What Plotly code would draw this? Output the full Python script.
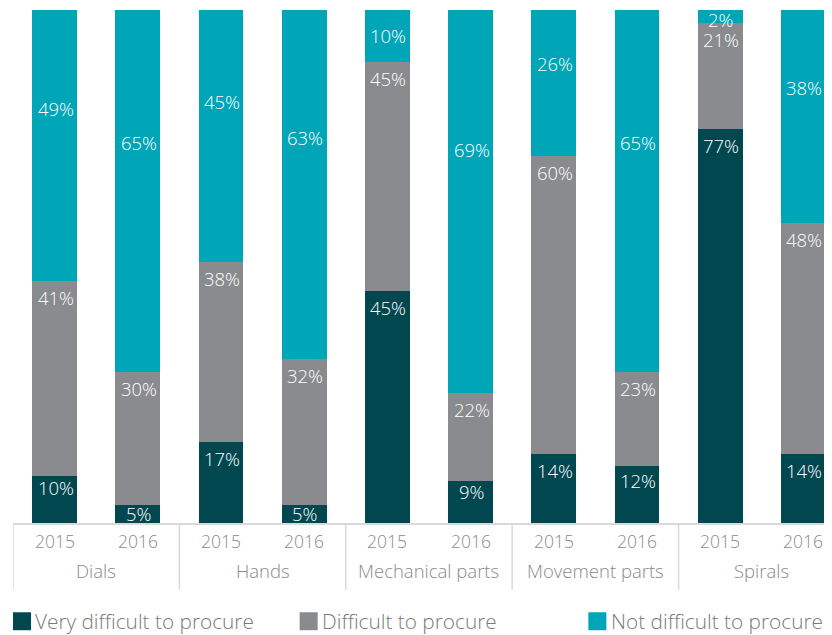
import plotly.graph_objects as go

groups = ["Dials", "Hands", "Mechanical parts", "Movement parts", "Spirals"]
years = ["2015", "2016"]
series_names = ["Very difficult to procure", "Difficult to procure", "Not difficult to procure"]
colors = ["#00474f", "#898b8e", "#00a5b7"]

# Bar segment heights as drawn in the picture (share of the full bar, %)
very_difficult = [9.2, 3.6, 15.8, 3.6, 45.2, 8.1, 13.5, 11.1, 76.9, 13.5]
difficult = [38.0, 25.9, 35.1, 28.4, 44.7, 17.2, 58.0, 18.4, 20.5, 45.0]
not_difficult = [52.8, 70.5, 49.1, 68.0, 10.1, 74.7, 28.5, 70.5, 2.6, 41.5]

# Percentages printed on the bars
very_difficult_labels = [10, 5, 17, 5, 45, 9, 14, 12, 77, 14]
difficult_labels = [41, 30, 38, 32, 45, 22, 60, 23, 21, 48]
not_difficult_labels = [49, 65, 45, 63, 10, 69, 26, 65, 2, 38]

n = len(very_difficult)
xs = list(range(n))
FONT = "Open Sans"
GRAY_TXT = "#8a8a8a"
LINE = "#d9d9d9"
PX_PER_UNIT = 5.13  # plot height 513px over 0..100

fig = go.Figure()
for vals, name, col in zip([very_difficult, difficult, not_difficult], series_names, colors):
    fig.add_trace(go.Bar(x=xs, y=vals, name=name, marker=dict(color=col, line=dict(width=0)),
                         width=0.54, showlegend=False, hoverinfo="skip"))

lab_font = dict(family=FONT, size=18.5, color="white", weight=300)


def end_offset(h):
    return 16.5 if h > 60 else max(h * 0.25, 8.5)


annotations = []
for i in xs:
    v = very_difficult[i]
    annotations.append(dict(x=i, y=v, xref="x", yref="y", text=f"{very_difficult_labels[i]}%",
                            showarrow=False, yanchor="middle",
                            yshift=-end_offset(v * PX_PER_UNIT), xshift=1, font=lab_font))
    g = difficult[i]
    annotations.append(dict(x=i, y=v + g, xref="x", yref="y", text=f"{difficult_labels[i]}%",
                            showarrow=False, yanchor="middle",
                            yshift=-end_offset(g * PX_PER_UNIT), xshift=1, font=lab_font))
    t = not_difficult[i]
    h = t * PX_PER_UNIT
    off = max(0.365 * h, min(h / 2, 27), 9)
    annotations.append(dict(x=i, y=v + g + t, xref="x", yref="y", text=f"{not_difficult_labels[i]}%",
                            showarrow=False, yanchor="middle", yshift=-off, xshift=1, font=lab_font))

# year labels and group labels
for gi, grp in enumerate(groups):
    for k, yr in enumerate(years):
        annotations.append(dict(x=2 * gi + k, y=0, xref="x", yref="paper", text=yr, showarrow=False,
                                yanchor="middle", yshift=-18,
                                font=dict(family=FONT, size=17.5, color=GRAY_TXT, weight=300)))
    annotations.append(dict(x=2 * gi + 0.5, y=0, xref="x", yref="paper", text=grp, showarrow=False,
                            yanchor="middle", yshift=-47,
                            font=dict(family=FONT, size=18.5, color=GRAY_TXT, weight=300)))

shapes = []
for gi in range(len(groups)):
    shapes.append(dict(type="line", xref="x", yref="paper", x0=2 * gi - 0.5, x1=2 * gi - 0.5,
                       y0=0, y1=-0.13, line=dict(color=LINE, width=1.5)))

# manual legend
leg_x = [0.0, 0.35, 0.7025]
for lx, name, col in zip(leg_x, series_names, colors):
    shapes.append(dict(type="rect", xref="paper", yref="paper", x0=lx, x1=lx + 0.022,
                       y0=-0.174, y1=-0.209, fillcolor=col, line=dict(width=0)))
    annotations.append(dict(x=lx + 0.026, y=-0.1915, xref="paper", yref="paper", text=name,
                            showarrow=False, xanchor="left", yanchor="middle", borderpad=0,
                            font=dict(family=FONT, size=20.8, color="#7a7a7a", weight=300)))

# page body has an 8px default margin; compensate so the plot sits where the reference has it
fig.update_layout(
    barmode="stack",
    width=824, height=627,
    margin=dict(l=5, r=0, t=2, b=112),
    plot_bgcolor="white", paper_bgcolor="white",
    xaxis=dict(range=[-0.5, 9.344], showticklabels=False, ticks="", showgrid=False, zeroline=False,
               showline=True, linecolor=LINE, linewidth=2),
    yaxis=dict(range=[0, 100], visible=False, showgrid=False, zeroline=False),
    annotations=annotations,
    shapes=shapes,
    bargap=0,
)

fig.write_html("out.html")
